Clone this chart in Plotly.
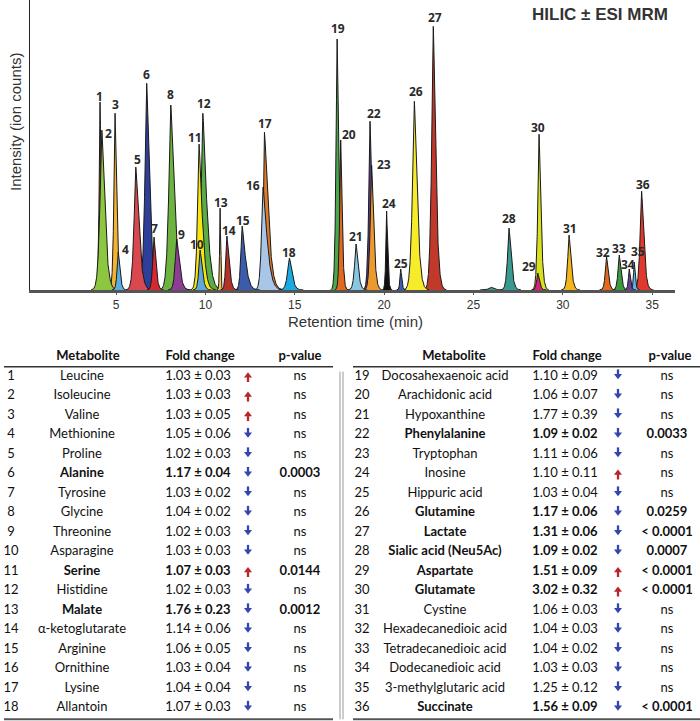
import numpy as np
import plotly.graph_objects as go

# ---------------- data ----------------
peak_id = list(range(1, 37))
retention = [4.10, 4.20, 4.94, 5.12, 6.10, 6.71, 7.12, 8.06, 8.39, 9.70, 9.64, 9.85,
             10.82, 11.20, 12.05, 13.22, 13.30, 14.70, 17.37, 17.57, 18.43, 19.21, 19.30,
             20.14, 20.93, 21.69, 22.75, 26.99, 28.60, 28.67, 30.35, 32.45, 33.16, 33.72,
             34.00, 34.41]
intensity = [188, 160, 177, 38, 123, 207, 53, 185, 51, 40, 146, 177, 82, 54, 64, 103,
             158, 32, 251, 150, 46, 169, 125, 79, 21, 189, 264, 62, 17, 156, 55, 33, 35,
             21, 28, 99]
peak_sigma = [0.07, 0.15, 0.09, 0.09, 0.14, 0.14, 0.10, 0.16, 0.12, 0.10, 0.12, 0.13,
              0.04, 0.09, 0.10, 0.12, 0.08, 0.15, 0.09, 0.08, 0.12, 0.10, 0.11, 0.06,
              0.06, 0.15, 0.13, 0.12, 0.09, 0.10, 0.11, 0.10, 0.10, 0.07, 0.06, 0.12]
peak_tailing = [1.3, 1.5, 1.4, 1.4, 1.7, 1.5, 1.4, 1.6, 1.7, 1.6, 2.0, 2.2,
                1.0, 1.8, 2.5, 2.5, 3.5, 1.3, 1.3, 1.3, 1.3, 1.4, 1.4, 1.3,
                1.3, 1.4, 1.4, 1.4, 1.4, 1.4, 1.4, 1.3, 1.3, 1.3, 1.3, 1.4]
peak_colors = ['#c1272d', '#8dc63f', '#f2b233', '#5aaee0', '#d9474f', '#2e3f99',
               '#d7282f', '#6db33f', '#8e3c96', '#5fa8dc', '#f5e614', '#5aac44',
               '#f5c342', '#b5312a', '#3b5bab', '#a9c6e8', '#e07b2a', '#1aa9e1',
               '#4aa84a', '#e06a1f', '#86c8e4', '#5b3c91', '#eb9a2f', '#111111',
               '#3a5fb0', '#f7ec2a', '#c0392b', '#3a9a92', '#d4237a', '#d9e021',
               '#f2b51c', '#e06b1e', '#3a9a3e', '#6a3d9a', '#5ab4e8', '#e03a2d']
bump_rt, bump_int, bump_color = 25.96, 3, '#3a9a92'

x_ticks = [5, 10, 15, 20, 25, 30, 35]

metabolites = ['Leucine', 'Isoleucine', 'Valine', 'Methionine', 'Proline', 'Alanine',
               'Tyrosine', 'Glycine', 'Threonine', 'Asparagine', 'Serine', 'Histidine',
               'Malate', 'α-ketoglutarate', 'Arginine', 'Ornithine', 'Lysine', 'Allantoin',
               'Docosahexaenoic acid', 'Arachidonic acid', 'Hypoxanthine', 'Phenylalanine',
               'Tryptophan', 'Inosine', 'Hippuric acid', 'Glutamine', 'Lactate',
               'Sialic acid (Neu5Ac)', 'Aspartate', 'Glutamate', 'Cystine',
               'Hexadecanedioic acid', 'Tetradecanedioic acid', 'Dodecanedioic acid',
               '3-methylglutaric acid', 'Succinate']
fc_mean = [1.03, 1.03, 1.03, 1.05, 1.02, 1.17, 1.03, 1.04, 1.02, 1.03, 1.07, 1.02,
           1.76, 1.14, 1.06, 1.03, 1.04, 1.07, 1.10, 1.06, 1.77, 1.09, 1.11, 1.10,
           1.03, 1.17, 1.31, 1.09, 1.51, 3.02, 1.06, 1.04, 1.04, 1.03, 1.25, 1.56]
fc_sd = [0.03, 0.03, 0.05, 0.06, 0.03, 0.04, 0.02, 0.02, 0.03, 0.03, 0.03, 0.03,
         0.23, 0.06, 0.05, 0.04, 0.04, 0.03, 0.09, 0.07, 0.39, 0.02, 0.06, 0.11,
         0.04, 0.06, 0.06, 0.02, 0.09, 0.32, 0.03, 0.03, 0.02, 0.03, 0.12, 0.09]
direction = ['up', 'up', 'up', 'down', 'down', 'down', 'down', 'down', 'down', 'down',
             'up', 'down', 'down', 'down', 'down', 'down', 'down', 'down',
             'down', 'down', 'down', 'down', 'down', 'up', 'down', 'down', 'down',
             'down', 'up', 'up', 'down', 'down', 'down', 'down', 'down', 'down']
p_values = ['ns', 'ns', 'ns', 'ns', 'ns', '0.0003', 'ns', 'ns', 'ns', 'ns', '0.0144', 'ns',
            '0.0012', 'ns', 'ns', 'ns', 'ns', 'ns',
            'ns', 'ns', 'ns', '0.0033', 'ns', 'ns', 'ns', '0.0259', '< 0.0001', '0.0007',
            '< 0.0001', '< 0.0001', 'ns', 'ns', 'ns', 'ns', 'ns', '< 0.0001']

# label offsets (px) relative to the apex: (dx, dy up)
label_offset = {1: (-1, 6), 2: (7, -3), 3: (0, 9), 4: (7, 3), 5: (2, 8), 6: (0, 9),
                7: (0, 9), 8: (0, 11), 9: (5, 5), 10: (-3, 6), 11: (-4, 7), 12: (1, 10),
                13: (1, 6), 14: (2, 6), 15: (1, 6), 16: (-10, 2), 17: (1, 9), 18: (0, 6),
                19: (1, 11), 20: (8, 6), 21: (0, 8), 22: (4, 8), 23: (12, 1), 24: (2, 8),
                25: (0, 6), 26: (2, 10), 27: (2, 9), 28: (0, 10), 29: (-9, 7), 30: (-1, 7),
                31: (1, 7), 32: (-4, 5), 33: (0, 7), 34: (-1, 5), 35: (4, 11), 36: (1, 7)}

W, H = 700, 721
fig = go.Figure()


def peak_curve(t0, h, s, tail):
    t = np.linspace(t0 - 4 * s, t0 + 4 * s * tail, 300)
    sig = np.where(t < t0, s, s * tail)
    return t, h * np.exp(-(np.abs(t - t0) / sig) ** 1.4)


# small unlabelled bump
t, y = peak_curve(bump_rt, bump_int, 0.15, 1.5)
fig.add_trace(go.Scatter(x=t, y=y, mode='lines', fill='tozeroy', fillcolor=bump_color,
                         line=dict(color='#222', width=1), hoverinfo='skip', showlegend=False))

order = sorted(range(36), key=lambda i: -intensity[i])
for i in order:
    t, y = peak_curve(retention[i], intensity[i], peak_sigma[i], peak_tailing[i])
    fig.add_trace(go.Scatter(x=t, y=y, mode='lines', fill='tozeroy', fillcolor=peak_colors[i],
                             line=dict(color='#1a1a1a', width=1), hoverinfo='skip',
                             showlegend=False))

annotations = []
for i, pid in enumerate(peak_id):
    dx, dy = label_offset[pid]
    annotations.append(dict(x=retention[i], y=intensity[i], xref='x', yref='y',
                            text='<b>%d</b>' % pid, showarrow=False, xanchor='center',
                            yanchor='middle', xshift=dx, yshift=dy,
                            font=dict(family='Open Sans', size=12, color='#2a2a2a')))

annotations.append(dict(x=600 / W, y=1 - 15 / H, xref='paper', yref='paper',
                        xanchor='center', yanchor='middle',
                        text='<b>HILIC ± ESI MRM</b>', showarrow=False,
                        font=dict(family='Liberation Sans', size=17, color='#333')))
annotations.append(dict(x=355 / W, y=1 - 321 / H, xref='paper', yref='paper',
                        xanchor='center', yanchor='middle',
                        text='Retention time (min)', showarrow=False,
                        font=dict(family='Liberation Sans', size=15, color='#333')))
annotations.append(dict(x=15 / W, y=1 - 122 / H, xref='paper', yref='paper', textangle=-90,
                        xanchor='center', yanchor='middle',
                        text='Intensity (ion counts)', showarrow=False,
                        font=dict(family='Liberation Sans', size=15, color='#333')))

# ---------------- table ----------------
tfont = 'Lato'
sig_flags = [p != 'ns' for p in p_values]
UP_COLOR, DOWN_COLOR = '#b8262b', '#3446ad'


def b(s, flag):
    return '<b>%s</b>' % s if flag else s


halves = [(range(0, 18), dict(num=11, name=82, fc=198, arr=248, p=300,
                              hname=88, hfc=200, hp=300, x0=4, x1=333)),
          (range(18, 36), dict(num=362, name=445, fc=565, arr=618, p=667,
                               hname=454, hfc=567, hp=670, x0=353, x1=700))]
shapes = []
for idx, c in halves:
    idx = list(idx)
    rows = [k - idx[0] + 1 for k in idx]
    common = dict(mode='text', xaxis='x2', yaxis='y2', hoverinfo='skip', showlegend=False,
                  textposition='middle center')
    mcommon = dict(mode='markers', xaxis='x2', yaxis='y2', hoverinfo='skip', showlegend=False)
    fig.add_trace(go.Scatter(x=[c['num']] * 18, y=rows, text=[str(peak_id[k]) for k in idx],
                             textfont=dict(family=tfont, size=13, color='#111'), **common))
    fig.add_trace(go.Scatter(x=[c['name']] * 18, y=rows,
                             text=[b(metabolites[k], sig_flags[k]) for k in idx],
                             textfont=dict(family=tfont, size=13, color='#111'), **common))
    fig.add_trace(go.Scatter(x=[c['fc']] * 18, y=rows,
                             text=[b('%.2f ± %.2f' % (fc_mean[k], fc_sd[k]), sig_flags[k])
                                   for k in idx],
                             textfont=dict(family=tfont, size=13, color='#111'), **common))
    fig.add_trace(go.Scatter(x=[c['p']] * 18, y=rows,
                             text=[b(p_values[k], sig_flags[k]) for k in idx],
                             textfont=dict(family=tfont, size=13, color='#111'), **common))
    up_rows = [r for r, k in zip(rows, idx) if direction[k] == 'up']
    dn_rows = [r for r, k in zip(rows, idx) if direction[k] == 'down']
    # up arrows: stem + head
    fig.add_trace(go.Scatter(x=[c['arr']] * len(up_rows), y=[r + 0.13 for r in up_rows],
                             marker=dict(symbol='line-ns', size=4,
                                         line=dict(color=UP_COLOR, width=2.3)), **mcommon))
    fig.add_trace(go.Scatter(x=[c['arr']] * len(up_rows), y=[r - 0.055 for r in up_rows],
                             marker=dict(symbol='triangle-up', size=7, color=UP_COLOR,
                                         line=dict(width=0)), **mcommon))
    # down arrows
    fig.add_trace(go.Scatter(x=[c['arr']] * len(dn_rows), y=[r - 0.23 for r in dn_rows],
                             marker=dict(symbol='line-ns', size=4,
                                         line=dict(color=DOWN_COLOR, width=2.3)), **mcommon))
    fig.add_trace(go.Scatter(x=[c['arr']] * len(dn_rows), y=[r - 0.05 for r in dn_rows],
                             marker=dict(symbol='triangle-down', size=7, color=DOWN_COLOR,
                                         line=dict(width=0)), **mcommon))
    fig.add_trace(go.Scatter(x=[c['hname'], c['hfc'], c['hp']], y=[0, 0, 0],
                             text=['<b>Metabolite</b>', '<b>Fold change</b>', '<b>p-value</b>'],
                             textfont=dict(family=tfont, size=13, color='#111'), **common))
    shapes.append(dict(type='line', xref='x2', yref='y2', x0=c['x0'], x1=c['x1'], y0=0.49, y1=0.49,
                       line=dict(color='#333', width=1.5)))
    shapes.append(dict(type='line', xref='x2', yref='y2', x0=c['x0'], x1=c['x1'], y0=18.57, y1=18.57,
                       line=dict(color='#555', width=2)))
for xv in (340, 343):
    shapes.append(dict(type='line', xref='x2', yref='y2', x0=xv, x1=xv, y0=0.74, y1=18.57,
                       line=dict(color='#999', width=1)))

fig.update_layout(
    width=W, height=H, margin=dict(l=0, r=0, t=0, b=0),
    paper_bgcolor='white', plot_bgcolor='rgba(0,0,0,0)',
    xaxis=dict(domain=[30 / W, 675 / W], range=[0.18, 36.28], showline=True, linecolor='#555',
               linewidth=2.5, ticks='outside', ticklen=2, tickcolor='#555', tickvals=x_ticks,
               tickfont=dict(family='Liberation Sans', size=12, color='#333'), showgrid=False,
               zeroline=False, anchor='y'),
    yaxis=dict(domain=[1 - 290 / H, 1], range=[0, 290], showline=True, linecolor='#222',
               linewidth=1.2, showticklabels=False, ticks='', showgrid=False, zeroline=False,
               anchor='x'),
    xaxis2=dict(domain=[0, 1], range=[0, 700], visible=False, anchor='y2'),
    yaxis2=dict(domain=[0, 376 / H], range=[18.66, -0.626], visible=False, anchor='x2'),
    annotations=annotations, shapes=shapes, showlegend=False,
)
fig.write_html('out.html', config={'displayModeBar': False},
               post_script="document.body.style.margin='0';")
